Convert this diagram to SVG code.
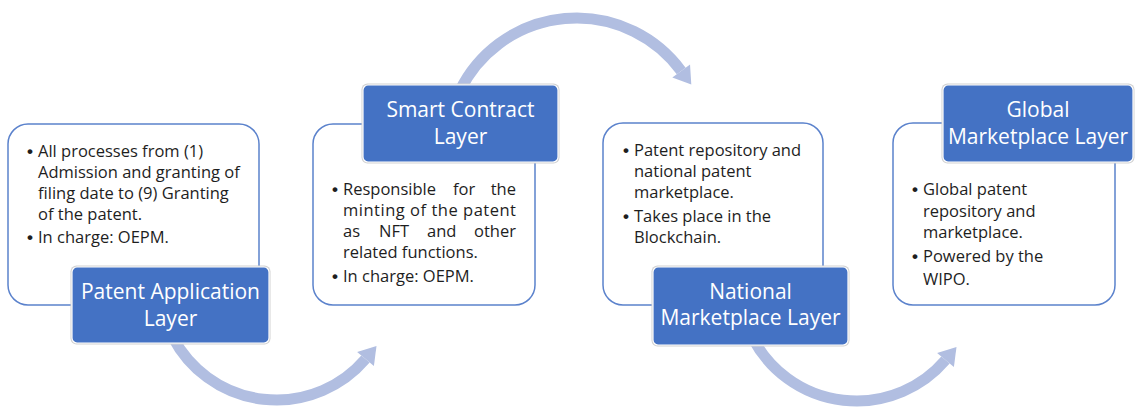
<svg xmlns="http://www.w3.org/2000/svg" width="1135" height="408" viewBox="0 0 1135 408">
  <style>
    .card { fill: #ffffff; stroke: #5b82cc; stroke-width: 1.5; }
    .halo { fill: #d2d2d2; }
    .title-box { fill: #4472c4; stroke: #ffffff; stroke-width: 1.2; }
    .title { font-family: "Open Sans", "Liberation Sans", sans-serif; font-size: 21px; fill: #ffffff; text-anchor: middle; }
    .body { font-family: "Open Sans", "Liberation Sans", sans-serif; font-size: 16.5px; fill: #1e1e1e; }
    .bullet { font-family: "Liberation Sans", sans-serif; font-size: 17px; font-weight: bold; fill: #1e1e1e; }
    .arc { fill: none; stroke: #b1bee1; stroke-width: 11; }
    .head { fill: #b1bee1; }
  </style>
  <rect width="1135" height="408" fill="#ffffff"/>

  <g id="connectors">
    <g id="arrow-1">
      <path class="arc" d="M 172.8 337.1 A 117 117 0 0 0 365.5 359"/>
      <polygon class="head" points="376.5,346 373.9,366.1 357.1,351.9"/>
    </g>
    <g id="arrow-2">
      <path class="arc" d="M 459.7 91 A 130 130 0 0 1 681.2 70.9"/>
      <polygon class="head" points="691.3,84.6 690.05,64.4 672.3,77.4"/>
    </g>
    <g id="arrow-3" transform="translate(580,1)">
      <path class="arc" d="M 172.8 337.1 A 117 117 0 0 0 365.5 359"/>
      <polygon class="head" points="376.5,346 373.9,366.1 357.1,351.9"/>
    </g>
  </g>

  <g id="node-patent-application">
    <rect class="card" x="8" y="124" width="251" height="181" rx="20"/>
    <text class="bullet" x="27" y="157">•</text>
    <text class="body" x="38" y="157">All processes from (1)</text>
    <text class="body" x="38" y="178">Admission and granting of</text>
    <text class="body" x="38" y="199">filing date to (9) Granting</text>
    <text class="body" x="38" y="220">of the patent.</text>
    <text class="bullet" x="27" y="243">•</text>
    <text class="body" x="38" y="243">In charge: OEPM.</text>
    <rect class="halo" x="70.5" y="265.5" width="200" height="79" rx="6"/>
    <rect class="title-box" x="72" y="267" width="197" height="76" rx="5"/>
    <text class="title" x="170.5" y="299">Patent Application</text>
    <text class="title" x="170.5" y="326">Layer</text>
  </g>

  <g id="node-smart-contract">
    <rect class="card" x="313" y="124" width="222" height="181" rx="20"/>
    <text class="bullet" x="332" y="195">•</text>
    <text class="body" x="343" y="195">Responsible</text>
    <text class="body" x="453" y="195">for</text>
    <text class="body" x="516" y="195" text-anchor="end">the</text>
    <text class="body" x="343" y="216" textLength="173" lengthAdjust="spacing">minting of the patent</text>
    <text class="body" x="343" y="237">as</text>
    <text class="body" x="379" y="237">NFT</text>
    <text class="body" x="427" y="237">and</text>
    <text class="body" x="516" y="237" text-anchor="end">other</text>
    <text class="body" x="343" y="258">related functions.</text>
    <text class="bullet" x="332" y="282">•</text>
    <text class="body" x="343" y="282">In charge: OEPM.</text>
    <rect class="halo" x="361.5" y="83.5" width="198" height="80" rx="6"/>
    <rect class="title-box" x="363" y="85" width="195" height="77" rx="5"/>
    <text class="title" x="460.5" y="117">Smart Contract</text>
    <text class="title" x="460.5" y="144">Layer</text>
  </g>

  <g id="node-national-marketplace">
    <rect class="card" x="603" y="123" width="220" height="182" rx="20"/>
    <text class="bullet" x="623" y="156">•</text>
    <text class="body" x="634" y="156">Patent repository and</text>
    <text class="body" x="634" y="177">national patent</text>
    <text class="body" x="634" y="198">marketplace.</text>
    <text class="bullet" x="623" y="222">•</text>
    <text class="body" x="634" y="222">Takes place in the</text>
    <text class="body" x="634" y="243">Blockchain.</text>
    <rect class="halo" x="651.5" y="265.5" width="198" height="81" rx="6"/>
    <rect class="title-box" x="653" y="267" width="195" height="78" rx="5"/>
    <text class="title" x="750.5" y="299">National</text>
    <text class="title" x="750.5" y="325">Marketplace Layer</text>
  </g>

  <g id="node-global-marketplace">
    <rect class="card" x="893" y="123" width="222" height="182" rx="20"/>
    <text class="bullet" x="912" y="195">•</text>
    <text class="body" x="923" y="195">Global patent</text>
    <text class="body" x="923" y="217">repository and</text>
    <text class="body" x="923" y="238">marketplace.</text>
    <text class="bullet" x="912" y="262">•</text>
    <text class="body" x="923" y="262">Powered by the</text>
    <text class="body" x="923" y="285">WIPO.</text>
    <rect class="halo" x="941.5" y="83.5" width="193" height="80" rx="6"/>
    <rect class="title-box" x="943" y="85" width="190" height="77" rx="5"/>
    <text class="title" x="1038" y="117">Global</text>
    <text class="title" x="1038" y="144">Marketplace Layer</text>
  </g>
</svg>
